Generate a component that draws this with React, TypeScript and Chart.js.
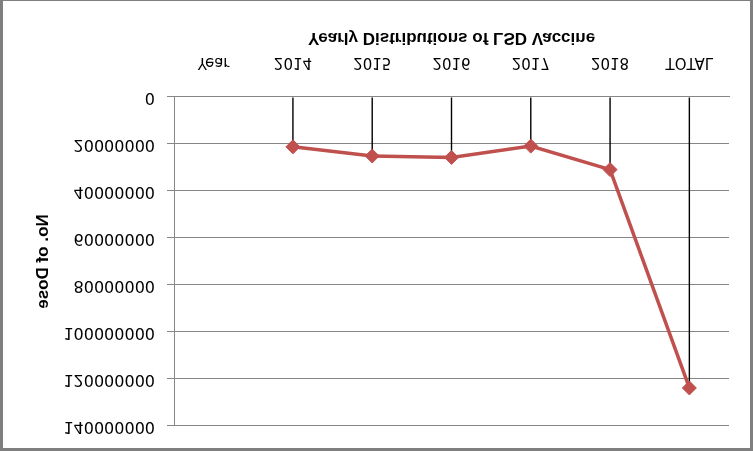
import { useEffect, useRef } from "react";
import { Chart, registerables } from "chart.js";

Chart.register(...registerables);

// categories along the axis ("Year" is the header cell, no value)
const categories = ["Year", "2014", "2015", "2016", "2017", "2018", "TOTAL"];
// doses per year
const doses = [null, 21200000, 25100000, 25700000, 20900000, 30900000, 123800000];
// value axis ticks
const yTicks = [0, 20000000, 40000000, 60000000, 80000000, 100000000, 120000000, 140000000];

const W = 753;
const H = 451;
const RED = "#C0504D";
const GRID = "#868686";

export default function App() {
  const ref = useRef<HTMLCanvasElement>(null);
  const chartRef = useRef<Chart | null>(null);

  useEffect(() => {
    if (!ref.current) return;
    if (chartRef.current) chartRef.current.destroy();

    chartRef.current = new Chart(ref.current, {
      type: "line",
      data: {
        labels: categories,
        datasets: [
          {
            type: "line",
            label: "No. of Dose",
            data: doses,
            borderColor: RED,
            backgroundColor: RED,
            borderWidth: 3.5,
            pointStyle: "rectRot",
            pointRadius: 7,
            pointBorderWidth: 1,
            pointBackgroundColor: RED,
            pointBorderColor: RED,
            tension: 0,
            order: 1,
          },
          {
            // drop lines from each point to the category axis
            type: "bar",
            label: "drop",
            data: doses,
            backgroundColor: "#000000",
            barThickness: 1.4,
            inflateAmount: 0,
            borderWidth: 0,
            order: 2,
          },
        ],
      },
      options: {
        responsive: true,
        maintainAspectRatio: false,
        animation: false,
        layout: { padding: { left: 28.8, right: 24, top: 25, bottom: 21.8 } },
        plugins: {
          legend: { display: false },
          tooltip: { enabled: false },
          title: {
            display: true,
            position: "bottom",
            fullSize: false,
            text: "Yearly Distributions of LSD Vaccine",
            color: "#000",
            font: { family: "'Liberation Sans', Arial, sans-serif", size: 17, weight: "bold" },
            padding: { top: 6, bottom: 6 },
          },
        },
        scales: {
          x: {
            type: "category",
            offset: true,
            grid: { display: false },
            border: { display: true, color: GRID, width: 1 },
            ticks: {
              color: "#000",
              padding: 18,
              maxRotation: 0,
              autoSkip: false,
              font: { family: "'DejaVu Sans', sans-serif", size: 15 },
            },
            afterFit: (s) => {
              s.height = 42.8;
            },
          },
          y: {
            min: 0,
            max: 140000000,
            grid: { color: GRID, lineWidth: 1, tickLength: 7, drawTicks: true },
            border: { display: true, color: GRID, width: 1 },
            ticks: {
              color: "#000",
              padding: 12,
              font: { family: "'DejaVu Sans', sans-serif", size: 16 },
              callback: (v) => String(v),
            },
            afterBuildTicks: (s) => {
              s.ticks = yTicks.map((v) => ({ value: v }));
            },
            title: {
              display: true,
              text: "No. of Dose",
              color: "#000",
              font: { family: "'Liberation Sans', Arial, sans-serif", size: 17, weight: "bold" },
              padding: { top: 4, bottom: 4 },
            },
            afterFit: (s) => {
              s.width = 145.2;
            },
          },
        },
      },
    });

    return () => chartRef.current?.destroy();
  }, []);

  return (
    <div style={{ position: "absolute", left: 0, top: 0, width: W, height: H, background: "#fff" }}>
      <div
        style={{
          position: "absolute",
          left: 0,
          top: 0,
          width: W,
          height: H,
          transform: "scaleY(-1)",
        }}
      >
        <canvas ref={ref} role="img" aria-label="Yearly Distributions of LSD Vaccine">
          Yearly Distributions of LSD Vaccine
        </canvas>
      </div>
      <div
        style={{
          position: "absolute",
          inset: 0,
          boxSizing: "border-box",
          borderStyle: "solid",
          borderColor: "#7f7f7f",
          borderWidth: "1px 3px 3px 3px",
          pointerEvents: "none",
        }}
      />
    </div>
  );
}
